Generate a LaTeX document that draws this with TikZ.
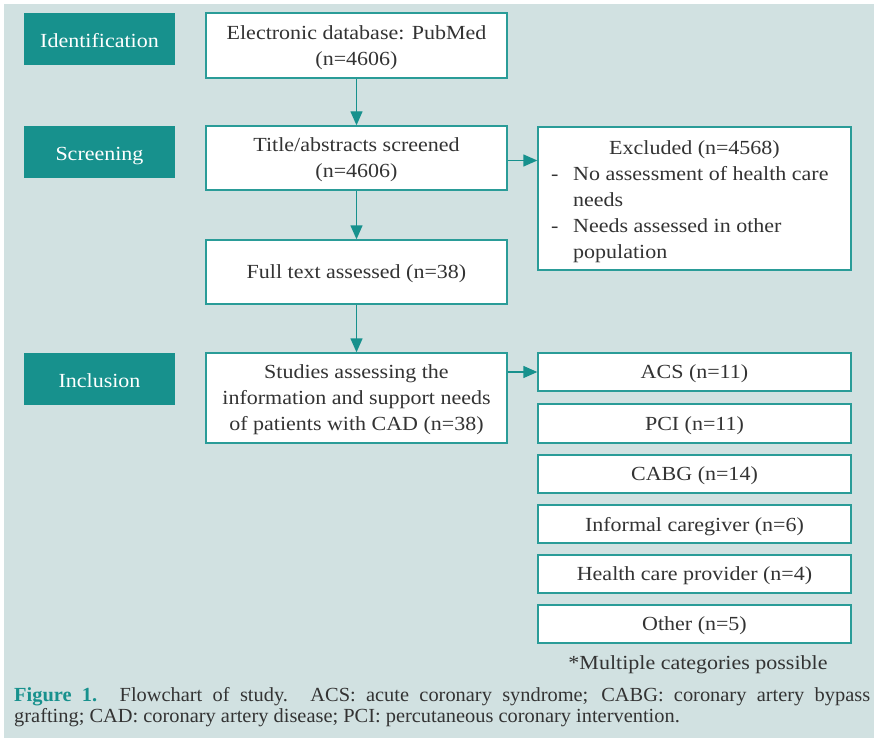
\documentclass[tikz,border=0pt]{standalone}
\usepackage{fontspec}
\setmainfont[FakeStretch=1.1]{Liberation Serif}
\newfontfamily\capfont[FakeStretch=1.02]{Liberation Serif}
\usetikzlibrary{arrows.meta}
\definecolor{panel}{HTML}{D1E1E1}
\definecolor{teal}{HTML}{17918D}
\definecolor{edge}{HTML}{2A9C98}
\definecolor{ink}{HTML}{333333}
\tikzset{
  stage/.style={fill=teal, draw=none, text=white, minimum width=151pt, minimum height=52pt, font=\fontsize{20}{22}\selectfont, inner sep=0pt, text height=17pt, text depth=0pt},
  flowbox/.style={fill=white, draw=edge, line width=1.4pt, text=ink, minimum width=301pt, align=center, font=\fontsize{20}{26}\selectfont, inner sep=0pt, text depth=0pt},
  catbox/.style={fill=white, draw=edge, line width=1.4pt, text=ink, minimum width=313pt, minimum height=38pt, font=\fontsize{20}{22}\selectfont, inner sep=0pt, text depth=0pt},
  exline/.style={text=ink, font=\fontsize{20}{22}\selectfont, anchor=base west, inner sep=0pt},
  flow/.style={draw=teal, line width=1.4pt, -{Triangle[width=12pt,length=14pt]}},
}
\begin{document}
\begin{tikzpicture}[x=1pt,y=-1pt]
\useasboundingbox (0,0) rectangle (874,738);
\fill[panel] (4,4) rectangle (874,738);

% stage labels
\node[stage] (ident) at (99.5,39) {Identification};
\node[stage] (screen) at (99.5,152) {Screening};
\node[stage] (incl) at (99.5,379) {Inclusion};

% main flow
\node[flowbox, minimum height=65pt] (db) at (356.5,45.5) {Electronic database: PubMed\\(n=4606)};
\node[flowbox, minimum height=64pt] (title) at (356.5,158) {Title/abstracts screened\\(n=4606)};
\node[flowbox, minimum height=64pt] (full) at (356.5,272) {Full text assessed (n=38)};
\node[flowbox, minimum height=90pt] (studies) at (356.5,398) {Studies assessing the\\information and support needs\\of patients with CAD (n=38)};

% exclusions
\node[fill=white, draw=edge, line width=1.4pt, minimum width=313pt, minimum height=143pt, inner sep=0pt] (excl) at (694.5,198.5) {};
\node[exline, anchor=base] (exclt) at (694.5,154) {Excluded (n=4568)};
\node[exline] (d1) at (551,180) {-};
\node[exline] (e1a) at (573,180) {No assessment of health care};
\node[exline] (e1b) at (573,206) {needs};
\node[exline] (d2) at (551,232) {-};
\node[exline] (e2a) at (573,232) {Needs assessed in other};
\node[exline] (e2b) at (573,258) {population};

% categories
\node[catbox] (acs) at (694.5,372) {ACS (n=11)};
\node[catbox, minimum height=39pt] (pci) at (694.5,423.5) {PCI (n=11)};
\node[catbox] (cabg) at (694.5,474) {CABG (n=14)};
\node[catbox] (care) at (694.5,524) {Informal caregiver (n=6)};
\node[catbox] (prov) at (694.5,574) {Health care provider (n=4)};
\node[catbox] (other) at (694.5,624) {Other (n=5)};
\node[exline, anchor=base] (note) at (698,669) {*Multiple categories possible};

% connectors
\draw[flow] (db) -- (title);
\draw[flow] (title) -- (full);
\draw[flow] (full) -- (studies);
\draw[flow] (title.east |- excl.west) ++(0,-38) coordinate (xa) -- (xa -| excl.west);
\draw[flow] (acs.west -| studies.east) -- (acs.west);

% caption
\node[anchor=north west, text width=856pt, align=justify, inner sep=0pt, text=ink,
      font=\capfont\fontsize{20}{21.5}\selectfont] (cap) at (14,687)
  {{\color{teal}\bfseries Figure 1.} Flowchart of study. ACS: acute coronary syndrome; CABG: coronary artery bypass\linebreak grafting; CAD: coronary artery disease; PCI: percutaneous coronary intervention.};
\end{tikzpicture}
\end{document}
